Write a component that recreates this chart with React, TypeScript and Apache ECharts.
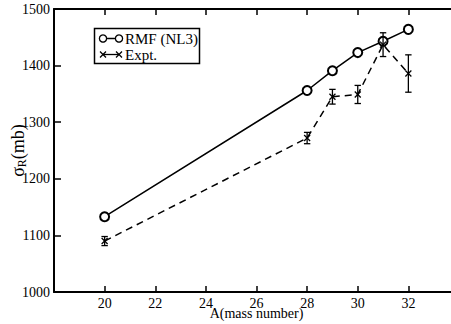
import React, { useEffect, useRef } from "react";
import * as echarts from "echarts";

const massNumbers = [20, 28, 29, 30, 31, 32];
const rmfValues = [1133, 1356, 1391, 1423, 1443, 1464];
const exptValues = [1090, 1272, 1345, 1349, 1437, 1386];
const exptErrors = [8, 10, 13, 16, 21, 33];
const xTicks = { min: 18, max: 34, interval: 2 };
const yTicks = { min: 1000, max: 1500, interval: 100 };

const FONT = "'Liberation Serif', 'Times New Roman', Times, serif";

export default function App() {
  const ref = useRef<HTMLDivElement>(null);
  useEffect(() => {
    if (!ref.current) return;
    const chart = echarts.init(ref.current, null, { renderer: "svg" });
    const rmfData = massNumbers.map((a, i) => [a, rmfValues[i]]);
    const exptData = massNumbers.map((a, i) => [a, exptValues[i], exptErrors[i]]);
    const axisLine = { show: true, lineStyle: { color: "#000", width: 2 } };
    const tickIn = (len: number) => ({ show: true, inside: true, length: len, lineStyle: { color: "#000", width: 1.5 } });
    chart.setOption({
      animation: false,
      backgroundColor: "#fff",
      grid: { left: 54, top: 9, width: 405, height: 283, containLabel: false, outerBoundsMode: "none" },
      xAxis: [
        {
          type: "value", position: "bottom", ...xTicks,
          axisLine, axisTick: tickIn(6), splitLine: { show: false },
          axisLabel: { color: "#000", fontFamily: FONT, fontSize: 14, margin: 4, showMinLabel: false, showMaxLabel: false, formatter: (v: number) => String(v) },
          name: "A(mass number)", nameLocation: "middle", nameGap: 14, nameMoveOverlap: false,
          nameTextStyle: { color: "#000", fontFamily: FONT, fontSize: 14 },
        },
        {
          type: "value", position: "top", ...xTicks,
          axisLine, axisTick: tickIn(6), splitLine: { show: false }, axisLabel: { show: false },
        },
      ],
      yAxis: [
        {
          type: "value", position: "left", ...yTicks,
          axisLine, axisTick: tickIn(7), splitLine: { show: false },
          axisLabel: { color: "#000", fontFamily: FONT, fontSize: 14, margin: 4, formatter: (v: number) => String(v) },
          name: "{s|σ}{sub|R}{n|(mb)}", nameLocation: "middle", nameGap: 26, nameMoveOverlap: false,
          nameTextStyle: {
            color: "#000", fontFamily: FONT,
            rich: {
              s: { fontSize: 18, fontFamily: FONT, color: "#000" },
              sub: { fontSize: 12, fontFamily: FONT, color: "#000", padding: [8, 0, 0, 0] },
              n: { fontSize: 18, fontFamily: FONT, color: "#000" },
            },
          },
        },
        {
          type: "value", position: "right", ...yTicks,
          axisLine, axisTick: tickIn(7), splitLine: { show: false }, axisLabel: { show: false },
        },
      ],
      series: [
        {
          type: "line", name: "RMF (NL3)", data: rmfData,
          symbol: "emptyCircle", symbolSize: 9,
          lineStyle: { color: "#000", width: 1.5 },
          itemStyle: { color: "#000", borderColor: "#000", borderWidth: 1.3 },
          z: 3,
        },
        {
          type: "line", name: "Expt.", data: exptData.map((d) => [d[0], d[1]]),
          symbol: "none",
          lineStyle: { color: "#000", width: 1.5, type: [7, 5] },
          z: 2,
        },
        {
          type: "custom", name: "Expt. errors", data: exptData,
          encode: { x: 0, y: 1 },
          renderItem: (params: any, api: any) => {
            const x = api.value(0), y = api.value(1), e = api.value(2);
            const c = api.coord([x, y]);
            const lo = api.coord([x, y - e]);
            const hi = api.coord([x, y + e]);
            const st = { stroke: "#000", lineWidth: 1.3 };
            const cap = 3.2, m = 3;
            return {
              type: "group",
              children: [
                { type: "line", shape: { x1: lo[0], y1: lo[1], x2: hi[0], y2: hi[1] }, style: st },
                { type: "line", shape: { x1: lo[0] - cap, y1: lo[1], x2: lo[0] + cap, y2: lo[1] }, style: st },
                { type: "line", shape: { x1: hi[0] - cap, y1: hi[1], x2: hi[0] + cap, y2: hi[1] }, style: st },
                { type: "line", shape: { x1: c[0] - m, y1: c[1] - m, x2: c[0] + m, y2: c[1] + m }, style: st },
                { type: "line", shape: { x1: c[0] - m, y1: c[1] + m, x2: c[0] + m, y2: c[1] - m }, style: st },
              ],
            };
          },
          z: 4,
        },
      ],
      graphic: [
        { type: "rect", shape: { x: 94.5, y: 28.5, width: 105, height: 35 }, style: { fill: "#fff", stroke: "#000", lineWidth: 1.5 }, z: 10 },
        { type: "line", shape: { x1: 103, y1: 38.5, x2: 119, y2: 38.5 }, style: { stroke: "#000", lineWidth: 1.5 }, z: 11 },
        { type: "circle", shape: { cx: 103, cy: 38.5, r: 3.6 }, style: { fill: "#fff", stroke: "#000", lineWidth: 1.3 }, z: 12 },
        { type: "circle", shape: { cx: 119, cy: 38.5, r: 3.6 }, style: { fill: "#fff", stroke: "#000", lineWidth: 1.3 }, z: 12 },
        { type: "text", x: 125, y: 39, style: { text: "RMF (NL3)", font: `15px ${FONT}`, fill: "#000", verticalAlign: "middle", align: "left" }, z: 12 },
        { type: "line", shape: { x1: 103, y1: 54.5, x2: 119, y2: 54.5 }, style: { stroke: "#000", lineWidth: 1.3 }, z: 11 },
        { type: "line", shape: { x1: 100, y1: 51.5, x2: 106, y2: 57.5 }, style: { stroke: "#000", lineWidth: 1.3 }, z: 12 },
        { type: "line", shape: { x1: 100, y1: 57.5, x2: 106, y2: 51.5 }, style: { stroke: "#000", lineWidth: 1.3 }, z: 12 },
        { type: "line", shape: { x1: 116, y1: 51.5, x2: 122, y2: 57.5 }, style: { stroke: "#000", lineWidth: 1.3 }, z: 12 },
        { type: "line", shape: { x1: 116, y1: 57.5, x2: 122, y2: 51.5 }, style: { stroke: "#000", lineWidth: 1.3 }, z: 12 },
        { type: "text", x: 125, y: 55, style: { text: "Expt.", font: `15px ${FONT}`, fill: "#000", verticalAlign: "middle", align: "left" }, z: 12 },
      ],
    });
    return () => chart.dispose();
  }, []);
  return (
    <div style={{ position: "fixed", left: 0, top: 0, width: 451, height: 324, overflow: "hidden", background: "#fff" }}>
      <div ref={ref} style={{ width: 470, height: 324 }} />
    </div>
  );
}
